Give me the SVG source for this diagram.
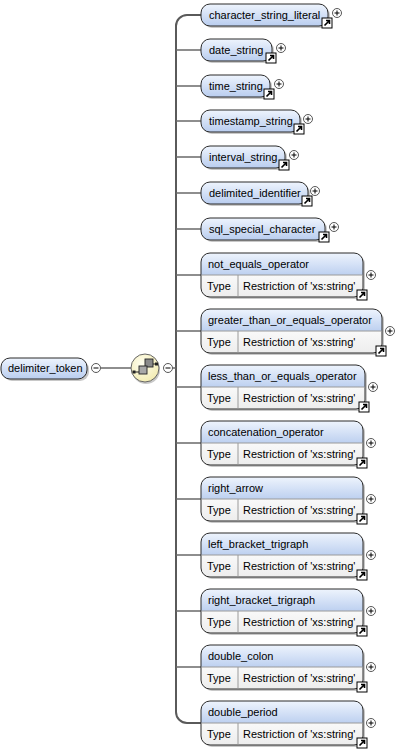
<svg xmlns="http://www.w3.org/2000/svg" width="413" height="750" viewBox="0 0 413 750">
<defs>
<linearGradient id="gNode" x1="0" y1="0" x2="0" y2="1">
<stop offset="0" stop-color="#eef4fd"/>
<stop offset="1" stop-color="#b9cdef"/>
</linearGradient>
<linearGradient id="gCx" x1="0" y1="0" x2="0" y2="1">
<stop offset="0" stop-color="#eef4fd"/>
<stop offset="0.5" stop-color="#bdd0f0"/>
<stop offset="0.5" stop-color="#f9f9f9"/>
<stop offset="1" stop-color="#ededed"/>
</linearGradient>
<radialGradient id="gComp" cx="0.4" cy="0.35" r="0.7">
<stop offset="0" stop-color="#fffef0"/>
<stop offset="1" stop-color="#f2ebb0"/>
</radialGradient>
<g id="link">
<rect x="0" y="0" width="10" height="10" fill="#fff" stroke="#000" stroke-width="1"/>
<path d="M2.5,7.5 L7,3 M4,2.5 H7.5 V6" fill="none" stroke="#000" stroke-width="1.6"/>
</g>
<g id="plus">
<circle cx="0" cy="0" r="4.5" fill="#fff" stroke="#444" stroke-width="0.9"/>
<path d="M-2.5,0 H2.5 M0,-2.5 V2.5" stroke="#000" stroke-width="1"/>
</g>
<g id="minus">
<circle cx="0" cy="0" r="4.5" fill="#fff" stroke="#444" stroke-width="0.9"/>
<path d="M-2.5,0 H2.5" stroke="#000" stroke-width="1"/>
</g>
</defs>
<style>
text{font-family:"Liberation Sans",Arial,sans-serif;font-size:11px;fill:#000}
.box{fill:url(#gNode);stroke:#2b2b2b;stroke-width:1}
.cbox{fill:url(#gCx);stroke:#2b2b2b;stroke-width:1}
.sh{fill:#c8c8c8}
.div{stroke:#9a9a9a;stroke-width:1;fill:none}
.con{fill:none;stroke:#5a5a5a;stroke-width:2}
.br{fill:none;stroke:#6a6a6a;stroke-width:1.5}
</style>

<g id="connectors">
<path class="con" d="M201,15 H187 A11,11 0 0 0 176,26 V712 A11,11 0 0 0 187,723 H201"/>
<path class="br" d="M101,368 H131 M172.5,368 H176 M176,50 H201 M176,86 H201 M176,121 H201 M176,157 H201 M176,193 H201 M176,229 H201 M176,275 H201 M176,331 H201 M176,387 H201 M176,443 H201 M176,499 H201 M176,555 H201 M176,611 H201 M176,667 H201"/>
</g>

<g id="delimiter_token">
<rect class="sh" x="3" y="360" width="86" height="21" rx="9"/>
<rect class="box" x="1" y="358" width="86" height="21" rx="9"/>
<text x="8" y="372">delimiter_token</text>
<use href="#minus" x="96" y="368"/>
</g>

<g id="sequence">
<circle cx="146" cy="370" r="14" fill="#c8c8c8"/>
<circle cx="145" cy="368" r="14" fill="url(#gComp)" stroke="#666" stroke-width="1"/>
<path d="M134,372 H139 M151,364 H156.5" stroke="#222" stroke-width="1.2"/>
<rect x="132.5" y="370.5" width="3" height="3" fill="#222"/>
<rect x="155" y="362.5" width="3" height="3" fill="#222"/>
<rect x="145" y="359" width="8" height="8" fill="#8a8a8a" stroke="#222" stroke-width="0.9"/>
<rect x="139" y="366" width="8" height="8" fill="#a8a8a8" stroke="#222" stroke-width="0.9"/>
<use href="#minus" x="168" y="368"/>
</g>

<g id="character_string_literal">
<rect class="sh" x="203" y="6" width="127" height="22" rx="9"/>
<rect class="box" x="201" y="4" width="127" height="22" rx="9"/>
<text x="209" y="19">character_string_literal</text>
<use href="#link" x="322" y="18"/>
<use href="#plus" x="337" y="13"/>
</g>
<g id="date_string">
<rect class="sh" x="203" y="41" width="71" height="22" rx="9"/>
<rect class="box" x="201" y="39" width="71" height="22" rx="9"/>
<text x="209" y="54">date_string</text>
<use href="#link" x="266" y="53"/>
<use href="#plus" x="281" y="48"/>
</g>
<g id="time_string">
<rect class="sh" x="203" y="77" width="69" height="22" rx="9"/>
<rect class="box" x="201" y="75" width="69" height="22" rx="9"/>
<text x="209" y="90">time_string</text>
<use href="#link" x="264" y="89"/>
<use href="#plus" x="279" y="84"/>
</g>
<g id="timestamp_string">
<rect class="sh" x="203" y="112" width="99" height="22" rx="9"/>
<rect class="box" x="201" y="110" width="99" height="22" rx="9"/>
<text x="209" y="125">timestamp_string</text>
<use href="#link" x="294" y="124"/>
<use href="#plus" x="308" y="119"/>
</g>
<g id="interval_string">
<rect class="sh" x="203" y="148" width="84" height="22" rx="9"/>
<rect class="box" x="201" y="146" width="84" height="22" rx="9"/>
<text x="209" y="161">interval_string</text>
<use href="#link" x="279" y="160"/>
<use href="#plus" x="294" y="155"/>
</g>
<g id="delimited_identifier">
<rect class="sh" x="203" y="184" width="107" height="22" rx="9"/>
<rect class="box" x="201" y="182" width="107" height="22" rx="9"/>
<text x="209" y="197">delimited_identifier</text>
<use href="#link" x="302" y="196"/>
<use href="#plus" x="315" y="191"/>
</g>
<g id="sql_special_character">
<rect class="sh" x="203" y="220" width="124" height="22" rx="9"/>
<rect class="box" x="201" y="218" width="124" height="22" rx="9"/>
<text x="209" y="233">sql_special_character</text>
<use href="#link" x="319" y="232"/>
<use href="#plus" x="334" y="227"/>
</g>

<g id="not_equals_operator">
<rect class="sh" x="203" y="255" width="162" height="44" rx="9"/>
<rect class="cbox" x="201" y="253" width="162" height="44" rx="9"/>
<path class="div" d="M201.5,275 H362.5 M238,275 V296.5"/>
<text x="208" y="268">not_equals_operator</text>
<text x="207" y="290">Type</text>
<text x="243" y="290">Restriction of 'xs:string'</text>
<use href="#link" x="357" y="290"/>
<use href="#plus" x="371" y="275"/>
</g>
<g id="greater_than_or_equals_operator">
<rect class="sh" x="203" y="311" width="181" height="44" rx="9"/>
<rect class="cbox" x="201" y="309" width="181" height="44" rx="9"/>
<path class="div" d="M201.5,331 H381.5 M238,331 V352.5"/>
<text x="208" y="324">greater_than_or_equals_operator</text>
<text x="207" y="346">Type</text>
<text x="243" y="346">Restriction of 'xs:string'</text>
<use href="#link" x="376" y="346"/>
<use href="#plus" x="390" y="331"/>
</g>
<g id="less_than_or_equals_operator">
<rect class="sh" x="203" y="367" width="164" height="44" rx="9"/>
<rect class="cbox" x="201" y="365" width="164" height="44" rx="9"/>
<path class="div" d="M201.5,387 H364.5 M238,387 V408.5"/>
<text x="208" y="380">less_than_or_equals_operator</text>
<text x="207" y="402">Type</text>
<text x="243" y="402">Restriction of 'xs:string'</text>
<use href="#link" x="359" y="402"/>
<use href="#plus" x="373" y="387"/>
</g>
<g id="concatenation_operator">
<rect class="sh" x="203" y="423" width="162" height="44" rx="9"/>
<rect class="cbox" x="201" y="421" width="162" height="44" rx="9"/>
<path class="div" d="M201.5,443 H362.5 M238,443 V464.5"/>
<text x="208" y="436">concatenation_operator</text>
<text x="207" y="458">Type</text>
<text x="243" y="458">Restriction of 'xs:string'</text>
<use href="#link" x="357" y="458"/>
<use href="#plus" x="371" y="443"/>
</g>
<g id="right_arrow">
<rect class="sh" x="203" y="479" width="162" height="44" rx="9"/>
<rect class="cbox" x="201" y="477" width="162" height="44" rx="9"/>
<path class="div" d="M201.5,499 H362.5 M238,499 V520.5"/>
<text x="208" y="492">right_arrow</text>
<text x="207" y="514">Type</text>
<text x="243" y="514">Restriction of 'xs:string'</text>
<use href="#link" x="357" y="514"/>
<use href="#plus" x="371" y="499"/>
</g>
<g id="left_bracket_trigraph">
<rect class="sh" x="203" y="535" width="162" height="44" rx="9"/>
<rect class="cbox" x="201" y="533" width="162" height="44" rx="9"/>
<path class="div" d="M201.5,555 H362.5 M238,555 V576.5"/>
<text x="208" y="548">left_bracket_trigraph</text>
<text x="207" y="570">Type</text>
<text x="243" y="570">Restriction of 'xs:string'</text>
<use href="#link" x="357" y="570"/>
<use href="#plus" x="371" y="555"/>
</g>
<g id="right_bracket_trigraph">
<rect class="sh" x="203" y="591" width="162" height="44" rx="9"/>
<rect class="cbox" x="201" y="589" width="162" height="44" rx="9"/>
<path class="div" d="M201.5,611 H362.5 M238,611 V632.5"/>
<text x="208" y="604">right_bracket_trigraph</text>
<text x="207" y="626">Type</text>
<text x="243" y="626">Restriction of 'xs:string'</text>
<use href="#link" x="357" y="626"/>
<use href="#plus" x="371" y="611"/>
</g>
<g id="double_colon">
<rect class="sh" x="203" y="647" width="162" height="44" rx="9"/>
<rect class="cbox" x="201" y="645" width="162" height="44" rx="9"/>
<path class="div" d="M201.5,667 H362.5 M238,667 V688.5"/>
<text x="208" y="660">double_colon</text>
<text x="207" y="682">Type</text>
<text x="243" y="682">Restriction of 'xs:string'</text>
<use href="#link" x="357" y="682"/>
<use href="#plus" x="371" y="667"/>
</g>
<g id="double_period">
<rect class="sh" x="203" y="703" width="162" height="44" rx="9"/>
<rect class="cbox" x="201" y="701" width="162" height="44" rx="9"/>
<path class="div" d="M201.5,723 H362.5 M238,723 V744.5"/>
<text x="208" y="716">double_period</text>
<text x="207" y="738">Type</text>
<text x="243" y="738">Restriction of 'xs:string'</text>
<use href="#link" x="357" y="738"/>
<use href="#plus" x="371" y="723"/>
</g>
</svg>
